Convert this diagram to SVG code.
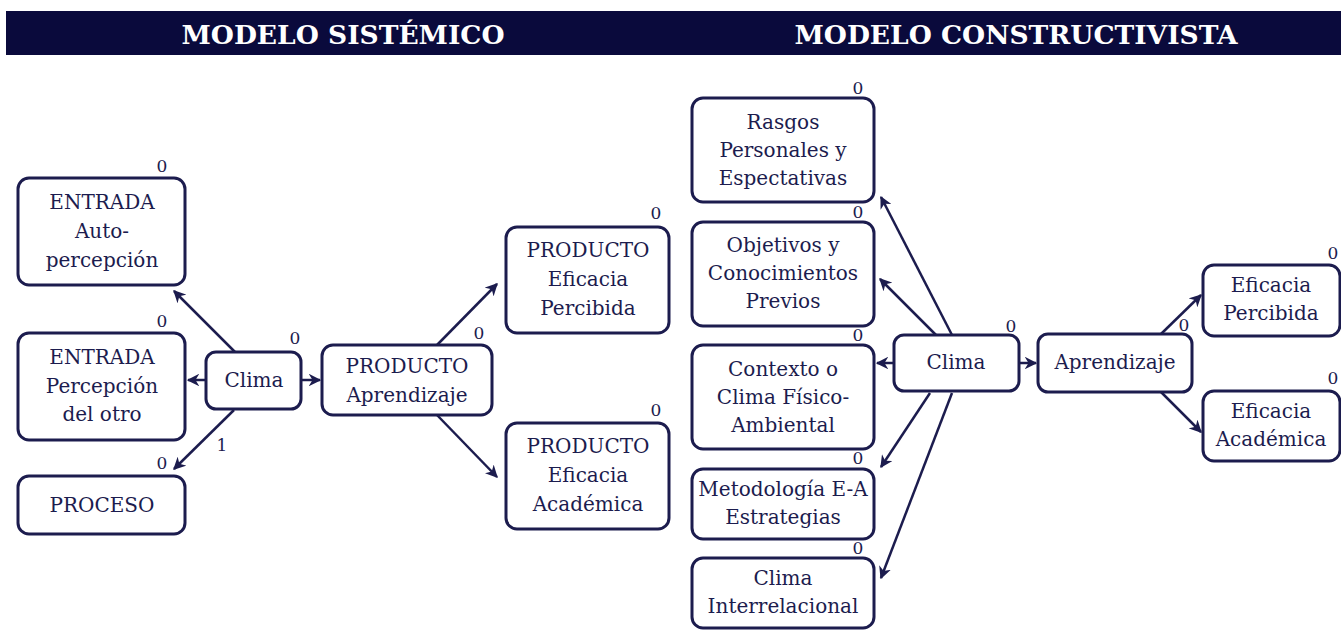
<svg xmlns="http://www.w3.org/2000/svg" width="1341" height="640" viewBox="0 0 1341 640">
<style>
.box{fill:#fff;stroke:#1c1c4e;stroke-width:3}
.t{font-family:'DejaVu Serif','Liberation Serif',serif;font-size:20px;fill:#1c1c4e;text-anchor:middle}
.n{font-family:'DejaVu Serif','Liberation Serif',serif;font-size:17px;fill:#1c1c4e;text-anchor:middle}
.h{font-family:'DejaVu Serif','Liberation Serif',serif;font-size:26.5px;font-weight:bold;fill:#fff;text-anchor:middle}
.c{stroke:#1c1c4e;stroke-width:2.5;fill:none;marker-end:url(#ah)}
</style>
<defs>
<marker id="ah" viewBox="0 0 10 10" refX="9" refY="5" markerWidth="5" markerHeight="5" orient="auto" markerUnits="strokeWidth">
<path d="M0,0 L10,5 L0,10 L3,5 Z" fill="#1c1c4e"/>
</marker>
</defs>
<rect x="6" y="11" width="1335" height="44" fill="#0a0a3c"/>
<text class="h" x="343" y="44">MODELO SISTÉMICO</text>
<text class="h" x="1016" y="44">MODELO CONSTRUCTIVISTA</text>

<g id="connectors">
<line class="c" x1="235" y1="352" x2="174" y2="291"/>
<line class="c" x1="206" y1="380" x2="188" y2="380"/>
<line class="c" x1="234" y1="410" x2="174" y2="469"/>
<line class="c" x1="301" y1="380" x2="320" y2="380"/>
<line class="c" x1="437" y1="345" x2="497" y2="284"/>
<line class="c" x1="437" y1="415" x2="497" y2="477"/>
<line class="c" x1="952" y1="335" x2="881" y2="197"/>
<line class="c" x1="936" y1="335" x2="880" y2="279"/>
<line class="c" x1="894" y1="363" x2="877" y2="363"/>
<line class="c" x1="930" y1="393" x2="881" y2="467"/>
<line class="c" x1="952" y1="393" x2="881" y2="578"/>
<line class="c" x1="1019" y1="363" x2="1036" y2="363"/>
<line class="c" x1="1161" y1="334" x2="1201" y2="295"/>
<line class="c" x1="1161" y1="392" x2="1201" y2="432"/>
<text class="n" x="222" y="451">1</text>
</g>

<g id="entrada1"><rect class="box" x="18" y="178" width="167" height="107" rx="11"/>
<text class="t" x="102" y="209">ENTRADA</text><text class="t" x="102" y="238">Auto-</text><text class="t" x="102" y="267">percepción</text>
<text class="n" x="162" y="172">0</text></g>
<g id="entrada2"><rect class="box" x="18" y="333" width="167" height="107" rx="11"/>
<text class="t" x="102" y="364">ENTRADA</text><text class="t" x="102" y="393">Percepción</text><text class="t" x="102" y="421">del otro</text>
<text class="n" x="162" y="327">0</text></g>
<g id="proceso"><rect class="box" x="18" y="476" width="167" height="58" rx="11"/>
<text class="t" x="102" y="512">PROCESO</text>
<text class="n" x="162" y="469">0</text></g>
<g id="clima1"><rect class="box" x="206" y="352" width="95" height="57" rx="10"/>
<text class="t" x="254" y="387">Clima</text>
<text class="n" x="295" y="344">0</text></g>
<g id="aprendizaje1"><rect class="box" x="322" y="345" width="170" height="70" rx="11"/>
<text class="t" x="407" y="373">PRODUCTO</text><text class="t" x="407" y="402">Aprendizaje</text>
<text class="n" x="479" y="339">0</text></g>
<g id="percibida1"><rect class="box" x="506" y="227" width="163" height="106" rx="11"/>
<text class="t" x="588" y="257">PRODUCTO</text><text class="t" x="588" y="286">Eficacia</text><text class="t" x="588" y="315">Percibida</text>
<text class="n" x="656" y="219">0</text></g>
<g id="academica1"><rect class="box" x="506" y="423" width="163" height="106" rx="11"/>
<text class="t" x="588" y="453">PRODUCTO</text><text class="t" x="588" y="482">Eficacia</text><text class="t" x="588" y="511">Académica</text>
<text class="n" x="656" y="416">0</text></g>

<g id="rasgos"><rect class="box" x="692" y="98" width="182" height="104" rx="11"/>
<text class="t" x="783" y="129">Rasgos</text><text class="t" x="783" y="157">Personales y</text><text class="t" x="783" y="185">Espectativas</text>
<text class="n" x="858" y="94">0</text></g>
<g id="objetivos"><rect class="box" x="692" y="222" width="182" height="104" rx="11"/>
<text class="t" x="783" y="252">Objetivos y</text><text class="t" x="783" y="280">Conocimientos</text><text class="t" x="783" y="308">Previos</text>
<text class="n" x="858" y="218">0</text></g>
<g id="contexto"><rect class="box" x="692" y="345" width="182" height="104" rx="11"/>
<text class="t" x="783" y="376">Contexto o</text><text class="t" x="783" y="404">Clima Físico-</text><text class="t" x="783" y="432">Ambiental</text>
<text class="n" x="858" y="341">0</text></g>
<g id="metodologia"><rect class="box" x="692" y="469" width="182" height="70" rx="11"/>
<text class="t" x="783" y="496">Metodología E-A</text><text class="t" x="783" y="524">Estrategias</text>
<text class="n" x="858" y="464">0</text></g>
<g id="interrelacional"><rect class="box" x="692" y="558" width="182" height="70" rx="11"/>
<text class="t" x="783" y="585">Clima</text><text class="t" x="783" y="613">Interrelacional</text>
<text class="n" x="858" y="554">0</text></g>
<g id="clima2"><rect class="box" x="894" y="335" width="125" height="56" rx="10"/>
<text class="t" x="956" y="369">Clima</text>
<text class="n" x="1011" y="332">0</text></g>
<g id="aprendizaje2"><rect class="box" x="1038" y="334" width="154" height="58" rx="10"/>
<text class="t" x="1115" y="369">Aprendizaje</text>
<text class="n" x="1184" y="331">0</text></g>
<g id="percibida2"><rect class="box" x="1203" y="265" width="137" height="71" rx="11"/>
<text class="t" x="1271" y="292">Eficacia</text><text class="t" x="1271" y="320">Percibida</text>
<text class="n" x="1333" y="259">0</text></g>
<g id="academica2"><rect class="box" x="1203" y="391" width="137" height="70" rx="11"/>
<text class="t" x="1271" y="418">Eficacia</text><text class="t" x="1271" y="446">Académica</text>
<text class="n" x="1333" y="384">0</text></g>
</svg>
